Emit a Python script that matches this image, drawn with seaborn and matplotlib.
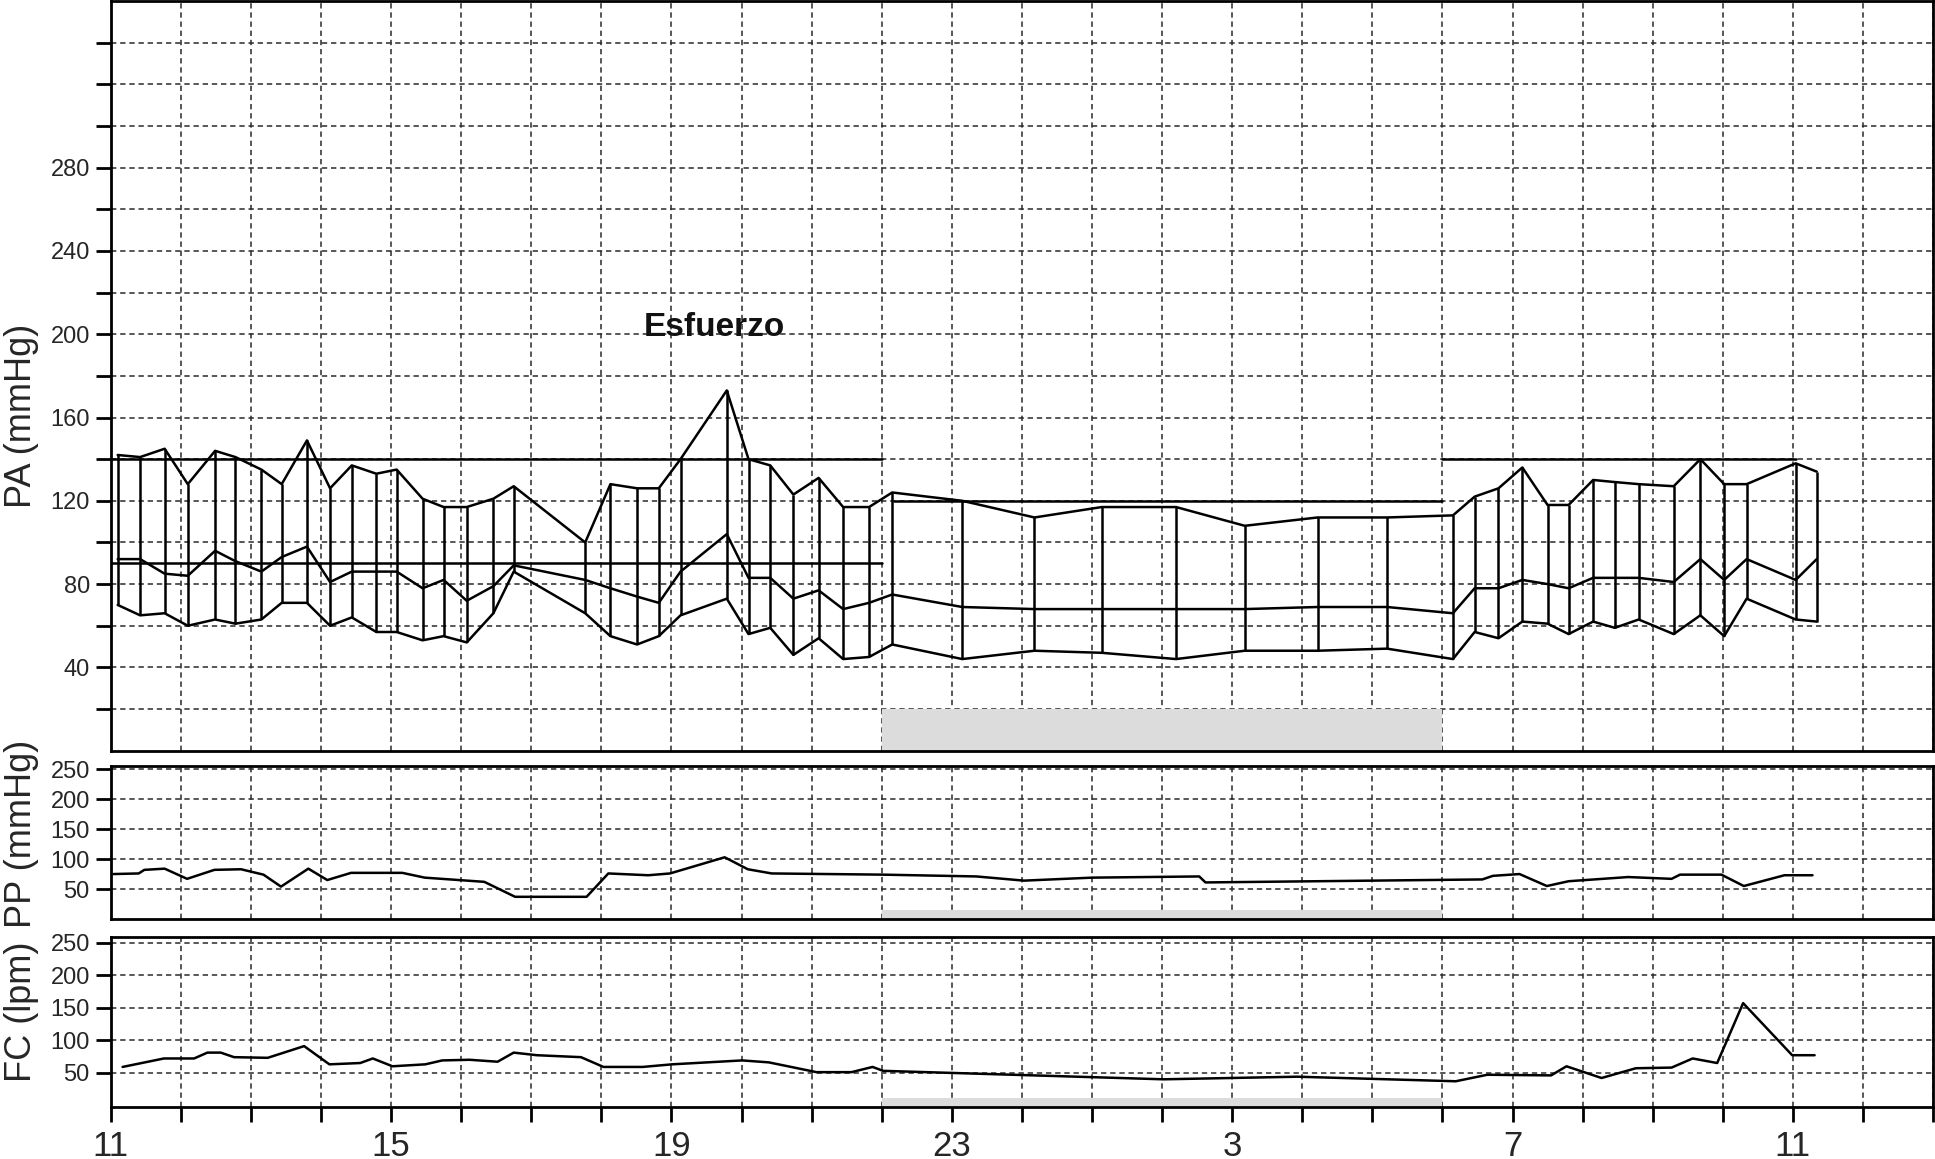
import matplotlib
matplotlib.use('Agg')
import matplotlib.pyplot as plt
import seaborn as sns

# blood pressure readings (hour of day, next day continues past 24)
pa_hours = [11.10, 11.42, 11.77, 12.10, 12.49, 12.78, 13.15, 13.44, 13.80, 14.13,
            14.44, 14.79, 15.08, 15.45, 15.75, 16.08, 16.46, 16.75, 17.77, 18.13,
            18.51, 18.82, 19.13, 19.79, 20.10, 20.41, 20.74, 21.10, 21.45, 21.82,
            22.15, 23.15, 24.18, 25.14, 26.20, 27.18, 28.22, 29.21, 30.15, 30.46,
            30.80, 31.14, 31.50, 31.80, 32.15, 32.46, 32.80, 33.30, 33.68, 34.02,
            34.34, 35.04, 35.34]
pa_sys = [142, 141, 145, 128, 144, 141, 135, 128, 149, 126,
          137, 133, 135, 121, 117, 117, 121, 127, 100, 128,
          126, 126, 140, 173, 140, 137, 123, 131, 117, 117,
          124, 120, 112, 117, 117, 108, 112, 112, 113, 122,
          126, 136, 118, 118, 130, 129, 128, 127, 140, 128,
          128, 138, 134]
pa_mean = [92, 92, 85, 84, 96, 91, 86, 93, 98, 81,
           86, 86, 86, 78, 82, 72, 79, 89, 82, 78,
           74, 71, 86, 104, 83, 83, 73, 77, 68, 71,
           75, 69, 68, 68, 68, 68, 69, 69, 66, 78,
           78, 82, 80, 78, 83, 83, 83, 81, 92, 82,
           92, 82, 92]
pa_dia = [70, 65, 66, 60, 63, 61, 63, 71, 71, 60,
          64, 57, 57, 53, 55, 52, 66, 86, 66, 55,
          51, 55, 65, 73, 56, 59, 46, 54, 44, 45,
          51, 44, 48, 47, 44, 48, 48, 49, 44, 57,
          54, 62, 61, 56, 62, 59, 63, 56, 65, 55,
          73, 63, 62]

pp_hours = [11.04, 11.40, 11.48, 11.77, 12.09, 12.48, 12.86, 13.18, 13.43, 13.82,
            14.09, 14.43, 15.16, 15.48, 16.33, 16.77, 17.79, 18.10, 18.67, 18.98,
            19.76, 20.09, 20.43, 22.02, 23.35, 24.03, 25.00, 26.53, 26.62, 30.57,
            30.72, 31.10, 31.49, 31.80, 32.65, 33.27, 33.39, 33.98, 34.30, 34.88,
            35.28]
pp = [75, 76, 82, 84, 67, 82, 83, 74, 54, 84,
      65, 77, 77, 69, 62, 37, 37, 76, 73, 76,
      103, 83, 76, 74, 71, 64, 69, 71, 61, 66,
      72, 75, 55, 63, 70, 67, 74, 74, 55, 73,
      73]

fc_hours = [11.17, 11.76, 12.19, 12.38, 12.57, 12.76, 13.24, 13.76, 14.12, 14.56,
            14.74, 15.02, 15.49, 15.73, 16.12, 16.52, 16.75, 17.08, 17.71, 18.03,
            18.59, 19.01, 20.01, 20.39, 21.07, 21.57, 21.87, 22.02, 26.02, 27.93,
            30.19, 30.64, 31.55, 31.77, 32.27, 32.76, 33.27, 33.57, 33.92, 34.29,
            34.99, 35.31]
fc = [59, 72, 72, 81, 81, 74, 73, 91, 63, 65,
      72, 60, 63, 69, 70, 67, 81, 77, 74, 59,
      59, 63, 69, 66, 51, 51, 59, 53, 40, 44,
      37, 47, 46, 60, 42, 57, 58, 72, 65, 157,
      77, 77]

# threshold lines: level, from, to
ref_level = [140, 90, 120, 140]
ref_start = [11, 11, 22.17, 30]
ref_end = [22, 22, 30, 35.05]

night_start, night_end = 22, 30
xtick_hours = [11, 15, 19, 23, 27, 31, 35]
xtick_labels = ['11', '15', '19', '23', '3', '7', '11']

sns.set_theme(style='white')
plt.rcParams['font.family'] = ['Liberation Sans', 'DejaVu Sans']

fig = plt.figure(figsize=(19.35, 11.59), dpi=100)
left, width = 0.0572, 0.9418
ax_pa = fig.add_axes([left, 0.3523, width, 0.6468])
ax_pp = fig.add_axes([left, 0.2071, width, 0.1323])
ax_fc = fig.add_axes([left, 0.0446, width, 0.1472])

grid_kw = dict(color='#2a2a2a', linewidth=1.1, linestyle=(0, (3.5, 2.5)))
line_kw = dict(color='black', linewidth=1.8, estimator=None, sort=False)

for ax in (ax_pa, ax_pp, ax_fc):
    ax.set_xlim(11, 37)
    ax.set_xticks(range(11, 38))
    ax.set_axisbelow(True)
    ax.grid(True, **grid_kw)
    for s in ax.spines.values():
        s.set_color('black')
        s.set_linewidth(2)
    ax.tick_params(axis='y', direction='out', length=11, width=2, color='black',
                   labelsize=17, pad=4, left=True)
    ax.tick_params(axis='x', length=0, labelbottom=False)

# PA panel
ax_pa.set_ylim(0, 360)
yt = list(range(20, 341, 20))
ax_pa.set_yticks(yt, [str(v) if v % 40 == 0 and v <= 280 else '' for v in yt])
ax_pa.fill_between([night_start, night_end], 0, 20, color='#dcdcdc', lw=0, zorder=1)
for lev, a, b in zip(ref_level, ref_start, ref_end):
    ax_pa.plot([a, b], [lev, lev], color='black', lw=1.8)
ax_pa.vlines(pa_hours, pa_dia, pa_sys, color='black', lw=1.8)
sns.lineplot(x=pa_hours, y=pa_sys, ax=ax_pa, **line_kw)
sns.lineplot(x=pa_hours, y=pa_mean, ax=ax_pa, **line_kw)
sns.lineplot(x=pa_hours, y=pa_dia, ax=ax_pa, **line_kw)
ax_pa.text(19.62, 203, 'Esfuerzo', ha='center', va='center', fontsize=24,
           fontweight='bold', color='#111111')

# PP panel
ax_pp.set_ylim(0, 256)
ax_pp.set_yticks([50, 100, 150, 200, 250])
ax_pp.fill_between([night_start, night_end], 0, 15, color='#dcdcdc', lw=0, zorder=1)
sns.lineplot(x=pp_hours, y=pp, ax=ax_pp, **line_kw)

# FC panel
ax_fc.set_ylim(-3, 259)
ax_fc.set_yticks([50, 100, 150, 200, 250])
ax_fc.fill_between([night_start, night_end], -3, 12, color='#dcdcdc', lw=0, zorder=1)
sns.lineplot(x=fc_hours, y=fc, ax=ax_fc, **line_kw)
ax_fc.tick_params(axis='x', direction='out', length=11, width=2, color='black',
                  labelsize=25, pad=5, bottom=True, labelbottom=True)
ax_fc.set_xticks(range(11, 38), [xtick_labels[xtick_hours.index(h)] if h in xtick_hours else ''
                                 for h in range(11, 38)])

for ax, lab, yc in ((ax_pa, 'PA (mmHg)', 0.446), (ax_pp, 'PP (mmHg)', 0.558),
                    (ax_fc, 'FC (lpm)', 0.559)):
    ax.set_ylabel(lab, fontsize=26)
    ax.set_xlabel('')
    ax.yaxis.set_label_coords(-0.0394, yc)

fig.savefig('out.png', dpi=100, facecolor='white')
